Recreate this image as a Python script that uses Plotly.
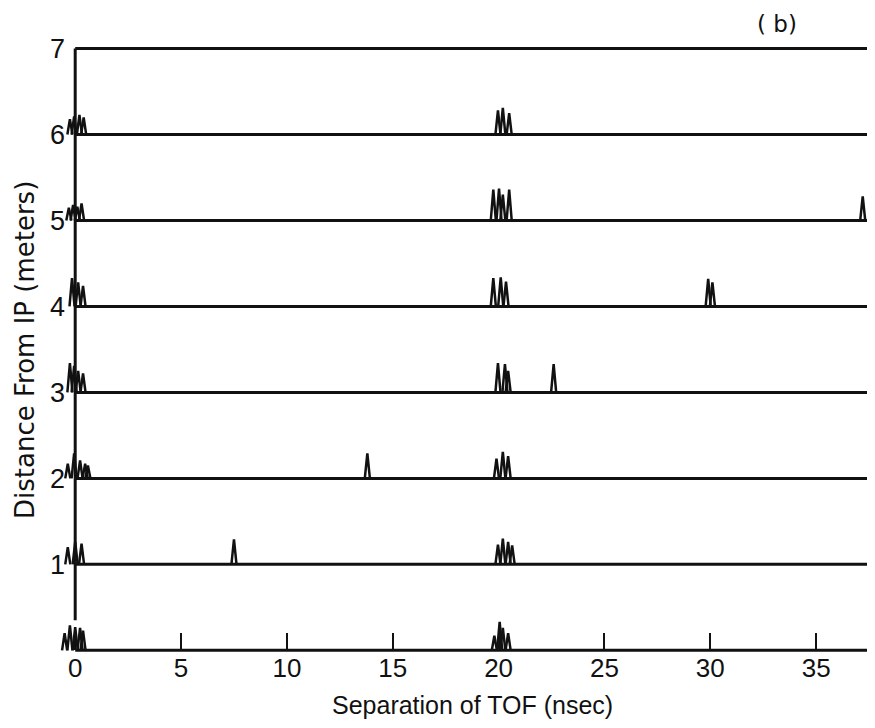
import plotly.graph_objects as go

# distance from IP (m) for each recorded trace
distances = [0, 1, 2, 3, 4, 5, 6]

# peak positions (nsec) and peak heights (in units of the distance axis)
peak_pos = [
    [-0.5, -0.25, 0.0, 0.23, 0.37, 19.8, 20.05, 20.2, 20.45],
    [-0.35, 0.0, 0.3, 7.5, 19.97, 20.2, 20.45, 20.64],
    [-0.35, -0.05, 0.23, 0.47, 0.6, 13.8, 19.9, 20.2, 20.45],
    [-0.25, -0.05, 0.14, 0.37, 19.97, 20.3, 20.45, 22.6],
    [-0.15, 0.14, 0.37, 19.75, 20.1, 20.35, 29.9, 30.1],
    [-0.3, -0.1, 0.1, 0.3, 19.75, 20.02, 20.2, 20.5, 37.2],
    [-0.25, -0.05, 0.2, 0.4, 19.97, 20.2, 20.5],
]
peak_height = [
    [0.2, 0.29, 0.27, 0.26, 0.23, 0.17, 0.33, 0.26, 0.2],
    [0.2, 0.26, 0.24, 0.29, 0.23, 0.30, 0.26, 0.22],
    [0.17, 0.29, 0.21, 0.17, 0.15, 0.29, 0.23, 0.31, 0.26],
    [0.34, 0.31, 0.25, 0.22, 0.34, 0.33, 0.25, 0.33],
    [0.33, 0.28, 0.24, 0.33, 0.34, 0.29, 0.32, 0.28],
    [0.15, 0.18, 0.16, 0.2, 0.36, 0.37, 0.30, 0.36, 0.28],
    [0.18, 0.21, 0.23, 0.2, 0.28, 0.31, 0.25],
]

x_ticks = [0, 5, 10, 15, 20, 25, 30, 35]
y_ticks = [1, 2, 3, 4, 5, 6, 7]

x_min, x_max = -0.718, 37.78
y_min, y_max = -0.45, 7.1
axis_bottom = 0.35
half_w = 0.12

ink = "#111111"
wide = "DejaVu Sans"
narrow = "Liberation Sans"

fig = go.Figure()

# baselines + top frame line
bx, by = [], []
for d in distances + [7]:
    bx += [0, x_max, None]
    by += [d, d, None]
fig.add_trace(go.Scatter(x=bx, y=by, mode="lines",
                         line=dict(color=ink, width=3), hoverinfo="skip"))

# left axis line
fig.add_trace(go.Scatter(x=[0, 0], y=[axis_bottom, 7], mode="lines",
                         line=dict(color=ink, width=3), hoverinfo="skip"))

# spikes
px, py = [], []
for d, xs, hs in zip(distances, peak_pos, peak_height):
    for x0, h in zip(xs, hs):
        px += [x0 - half_w, x0, x0 + half_w, None]
        py += [d, d + h, d, None]
fig.add_trace(go.Scatter(x=px, y=py, mode="lines",
                         line=dict(color=ink, width=2.5), hoverinfo="skip"))

# page body has an 8px margin, so the figure is sized to fit inside it
fig.update_layout(
    width=867,
    height=712,
    margin=dict(l=52, r=0, t=32, b=31),
    paper_bgcolor="white",
    plot_bgcolor="white",
    showlegend=False,
    font=dict(family=wide, color=ink),
    xaxis=dict(
        range=[x_min, x_max],
        anchor="free",
        position=(0 - y_min) / (y_max - y_min),
        showgrid=False,
        zeroline=False,
        showline=False,
        tickvals=x_ticks,
        ticktext=[str(v) for v in x_ticks],
        ticks="inside",
        ticklen=17,
        tickwidth=2,
        tickcolor=ink,
        tickfont=dict(size=26, family=narrow),
    ),
    yaxis=dict(
        range=[y_min, y_max],
        showgrid=False,
        zeroline=False,
        showline=False,
        tickvals=y_ticks,
        ticktext=[str(v) for v in y_ticks],
        ticks="",
        ticklabelstandoff=-6,
        tickfont=dict(size=27, family=narrow),
    ),
    annotations=[
        dict(text="Separation of TOF (nsec)", xref="paper", yref="paper",
             x=(472 - 60) / 815, y=(689 - 705) / 649, xanchor="center",
             yanchor="middle", showarrow=False,
             font=dict(size=25, family=narrow)),
        dict(text="Distance From IP (meters)", xref="paper", yref="paper",
             x=(25 - 60) / 815, y=(689 - 350) / 649, xanchor="center",
             yanchor="middle", textangle=-90, showarrow=False,
             font=dict(size=26, family=wide)),
        dict(text="( b)", xref="paper", yref="paper",
             x=(777 - 60) / 815, y=(689 - 24) / 649, xanchor="center",
             yanchor="middle", showarrow=False,
             font=dict(size=23, family=wide)),
    ],
)

fig.write_html("out.html")
